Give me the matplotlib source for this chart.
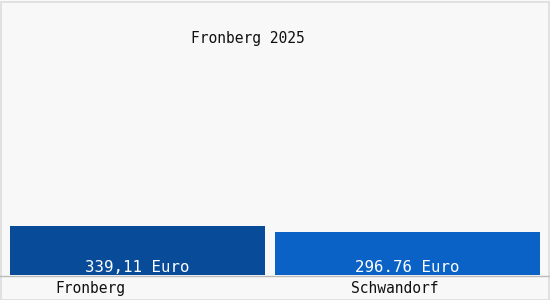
import matplotlib
matplotlib.use("Agg")
import matplotlib.pyplot as plt
from matplotlib.patches import Rectangle

categories = ["Fronberg", "Schwandorf"]
values = [339.11, 296.76]
value_labels = ["339,11 Euro", "296.76 Euro"]
title = "Fronberg 2025"
colors = ["#084b98", "#0a62c6"]

W, H = 550, 300
fig = plt.figure(figsize=(W / 100, H / 100), dpi=100)
fig.patch.set_facecolor("#f8f8f8")

# plot area: x 0..550 px, y 0..275 px from top
ax = fig.add_axes([0, 25 / H, 1, 275 / H])
ax.set_facecolor("#f8f8f8")
ax.set_xlim(0, 550)
ax.set_ylim(0, 1900)
ax.axis("off")

lefts = [10, 275]
widths = [255, 265]
bars = ax.bar(lefts, values, width=widths, align="edge", color=colors, zorder=2)
for b, lab in zip(bars, value_labels):
    ax.text(b.get_x() + b.get_width() / 2, 2, lab, ha="center", va="bottom",
            color="white", fontsize=11.3, family="DejaVu Sans Mono", zorder=3)

# axis line
fig.add_artist(plt.Line2D([0, 1], [1 - 275.5 / H, 1 - 275.5 / H], color="#bbbbbb", lw=1))
# border
fig.add_artist(Rectangle((0.5 / W, 0.5 / H), 1 - 2 / W, 1 - 2 / H, fill=False,
                         edgecolor="#dddddd", lw=1.2, transform=fig.transFigure))

fig.text(248 / W, 1 - 39 / H, title, ha="center", va="center", fontsize=10.5,
         family="DejaVu Sans Mono", color="#111111")
label_x = [90, 395]
for x, c in zip(label_x, categories):
    fig.text(x / W, 1 - 288.5 / H, c, ha="center", va="center", fontsize=10.5,
             family="DejaVu Sans Mono", color="#111111")

fig.savefig("out.png", dpi=100, facecolor=fig.get_facecolor())
